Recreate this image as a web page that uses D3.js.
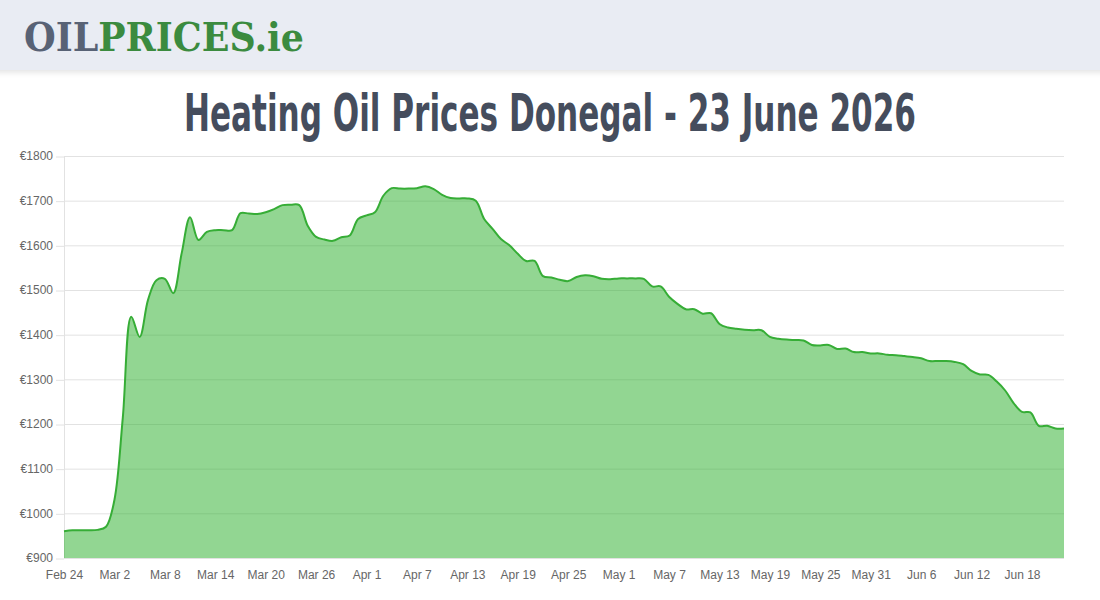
<!DOCTYPE html>
<html>
<head>
<meta charset="utf-8">
<script src="https://cdn.jsdelivr.net/npm/d3@7"></script>
<style>
  html, body { margin: 0; padding: 0; background: #fff; }
  svg { display: block; }
</style>
</head>
<body>
<script>
// daily prices, Feb 24 -> Jun 23 2026
const startDate = "2026-02-24";
const prices = [
  960, 962, 962, 962, 963, 970, 1030, 1215, 1440, 1395,
  1478, 1522, 1525, 1493, 1582, 1663, 1612, 1630, 1634, 1634,
  1634, 1672, 1671, 1670, 1674, 1681, 1690, 1691, 1690, 1644,
  1619, 1613, 1610, 1618, 1622, 1659, 1667, 1674, 1711, 1728,
  1727, 1727, 1728, 1732, 1726, 1713, 1706, 1705, 1705, 1700,
  1659, 1637, 1614, 1600, 1581, 1565, 1565, 1531, 1528, 1523,
  1520, 1529, 1533, 1531, 1525, 1524, 1526, 1526, 1526, 1525,
  1508, 1508, 1485, 1469, 1457, 1457, 1447, 1448, 1424, 1416,
  1413, 1411, 1410, 1410, 1395, 1391, 1389, 1388, 1387, 1377,
  1376, 1377, 1368, 1369, 1361, 1361, 1358, 1358, 1355, 1354,
  1352, 1350, 1347, 1341, 1341, 1341, 1339, 1334, 1319, 1311,
  1310, 1295, 1275, 1247, 1227, 1226, 1196, 1196, 1190, 1190
];
const yTicks = [900, 1000, 1100, 1200, 1300, 1400, 1500, 1600, 1700, 1800];
const tickEvery = 6;
const title = "Heating Oil Prices Donegal - 23 June 2026";

const fmt = d3.timeFormat("%b %-d");
const parse = d3.timeParse("%Y-%m-%d");
const start = parse(startDate);
const labels = prices.map((p, i) => fmt(d3.timeDay.offset(start, i)));
const data = prices.map((p, i) => ({ label: labels[i], value: p }));
const xTicks = labels.filter((l, i) => i % tickEvery === 0);

const w = 1100, h = 600;
const plotL = 64, plotR = 1064, plotT = 156, plotB = 558;

const svg = d3.select("body").append("svg")
  .attr("width", w)
  .attr("height", h);

// header band
const defs = svg.append("defs");
const shadow = defs.append("filter").attr("id", "shadow")
  .attr("x", "-5%").attr("y", "-50%").attr("width", "110%").attr("height", "200%");
shadow.append("feDropShadow")
  .attr("dx", 0).attr("dy", 2).attr("stdDeviation", 3)
  .attr("flood-color", "#000").attr("flood-opacity", 0.12);

svg.append("rect")
  .attr("x", -10).attr("y", 0)
  .attr("width", w + 20).attr("height", 70)
  .attr("fill", "#e9ecf3")
  .attr("filter", "url(#shadow)");

const logo = svg.append("text")
  .attr("x", 24).attr("y", 51)
  .attr("font-family", "'DejaVu Serif', serif")
  .attr("font-weight", "bold")
  .attr("font-size", 39)
  .attr("textLength", 280)
  .attr("lengthAdjust", "spacingAndGlyphs");
logo.append("tspan").attr("fill", "#586275").text("OIL");
logo.append("tspan").attr("fill", "#3b8b3f").text("PRICES.ie");

svg.append("text")
  .attr("x", w / 2).attr("y", 131)
  .attr("text-anchor", "middle")
  .attr("font-family", "'DejaVu Sans Condensed', 'Liberation Sans Narrow', sans-serif")
  .attr("font-weight", "bold")
  .attr("font-size", 51)
  .attr("fill", "#454d5d")
  .attr("textLength", 732)
  .attr("lengthAdjust", "spacingAndGlyphs")
  .text(title);

const xScale = d3.scalePoint()
  .domain(labels)
  .range([plotL, plotR]);

const yScale = d3.scaleLinear()
  .domain([900, 1800])
  .range([plotB, plotT]);

// horizontal grid
svg.append("g")
  .selectAll("line")
  .data(yTicks)
  .enter()
  .append("line")
  .attr("x1", plotL).attr("x2", plotR)
  .attr("y1", d => yScale(d) + 0.5).attr("y2", d => yScale(d) + 0.5)
  .attr("stroke", "#e2e2e2");

// left border
svg.append("line")
  .attr("x1", plotL + 0.5).attr("x2", plotL + 0.5)
  .attr("y1", plotT).attr("y2", plotB)
  .attr("stroke", "#e2e2e2");

const curve = d3.curveCatmullRom.alpha(0.5);

const area = d3.area()
  .x(d => xScale(d.label))
  .y0(yScale(900))
  .y1(d => yScale(d.value))
  .curve(curve);

const line = d3.line()
  .x(d => xScale(d.label))
  .y(d => yScale(d.value))
  .curve(curve);

svg.append("path")
  .datum(data)
  .attr("d", area)
  .attr("fill", "rgba(38, 174, 38, 0.5)");

svg.append("path")
  .datum(data)
  .attr("d", line)
  .attr("fill", "none")
  .attr("stroke", "#36ad36")
  .attr("stroke-width", 2);

// axes
const yAxis = d3.axisLeft(yScale)
  .tickValues(yTicks)
  .tickFormat(d => "€" + d)
  .tickSize(8)
  .tickPadding(3);

const gy = svg.append("g")
  .attr("transform", "translate(" + plotL + ",0)")
  .call(yAxis);
gy.select(".domain").remove();
gy.selectAll("line").attr("stroke", "#e2e2e2").attr("transform", "translate(0,0.5)");
gy.selectAll("text")
  .attr("font-family", "'Liberation Sans', Arial, sans-serif")
  .attr("font-size", 12)
  .attr("fill", "#666");

const xAxis = d3.axisBottom(xScale)
  .tickValues(xTicks)
  .tickSize(0)
  .tickPadding(12);

const gx = svg.append("g")
  .attr("transform", "translate(0," + plotB + ")")
  .call(xAxis);
gx.select(".domain").remove();
gx.selectAll("text")
  .attr("font-family", "'Liberation Sans', Arial, sans-serif")
  .attr("font-size", 12)
  .attr("fill", "#666");
</script>
</body>
</html>
